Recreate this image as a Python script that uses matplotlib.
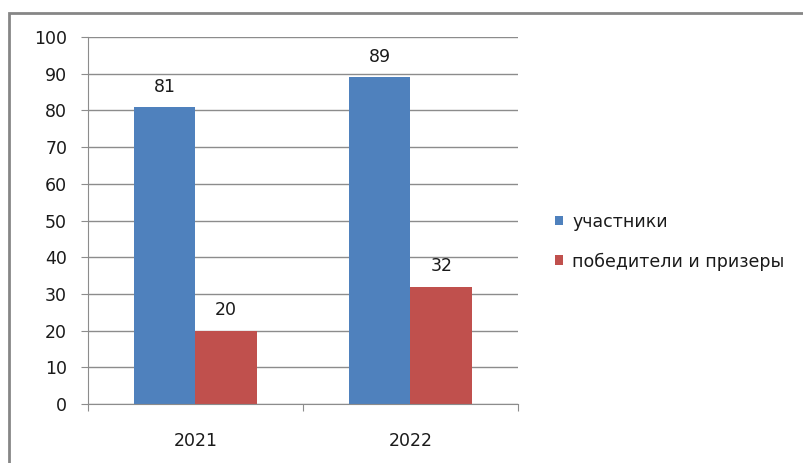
import numpy as np
import matplotlib
matplotlib.use("Agg")
import matplotlib.pyplot as plt
from matplotlib.patches import Rectangle

years = ["2021", "2022"]
participants = [81, 89]
winners = [20, 32]
series_names = ["участники", "победители и призеры"]
yticks = [0, 10, 20, 30, 40, 50, 60, 70, 80, 90, 100]

plt.rcParams['font.family'] = ['DejaVu Sans']

fig = plt.figure(figsize=(8.04, 4.63), dpi=100)
ax = fig.add_axes([88 / 804, 59 / 463, 430 / 804, 367 / 463])

# outer chart border (cut off at right and bottom like the source)
fig.patches.append(Rectangle((9 / 804, -0.05), 1.0, (463 - 13) / 463 + 0.05,
                             transform=fig.transFigure, fill=False,
                             edgecolor='#868686', linewidth=2))

x = np.arange(len(years))
w = 0.2857
b1 = ax.bar(x - w / 2, participants, w, color='#4F81BD', label=series_names[0])
b2 = ax.bar(x + w / 2, winners, w, color='#C0504D', label=series_names[1])

fs = 12.5
for bars in (b1, b2):
    for r in bars:
        ax.annotate("%d" % r.get_height(), (r.get_x() + r.get_width() / 2, r.get_height()),
                    xytext=(0, 8), textcoords='offset points', ha='center', va='bottom',
                    fontsize=fs, color='#1a1a1a')

ax.set_xlim(-0.5, 1.5)
ax.set_ylim(0, 100)
ax.set_yticks(yticks)
ax.yaxis.grid(True, color='#8c8c8c', linewidth=1)
ax.set_axisbelow(True)
for s in ['top', 'right']:
    ax.spines[s].set_visible(False)
ax.spines['left'].set_color('#8c8c8c')
ax.spines['bottom'].set_color('#8c8c8c')

ax.set_xticks([-0.5, 0.5, 1.5])
ax.set_xticklabels([])
ax.set_xticks(x, minor=True)
ax.set_xticklabels(years, minor=True, fontsize=fs, color='#1a1a1a')
ax.tick_params(axis='x', which='major', length=5, color='#8c8c8c')
ax.tick_params(axis='x', which='minor', length=0, pad=20)
ax.tick_params(axis='y', length=5, color='#8c8c8c', pad=10, labelsize=fs, labelcolor='#1a1a1a')

leg = fig.legend(handles=[b1, b2], loc='upper left', bbox_to_anchor=(539 / 804, 1 - 197 / 463),
                 frameon=False, fontsize=fs, handlelength=0.5, handleheight=0.5,
                 handletextpad=0.5, labelspacing=1.25, labelcolor='#1a1a1a')

fig.savefig("out.png", dpi=100)
